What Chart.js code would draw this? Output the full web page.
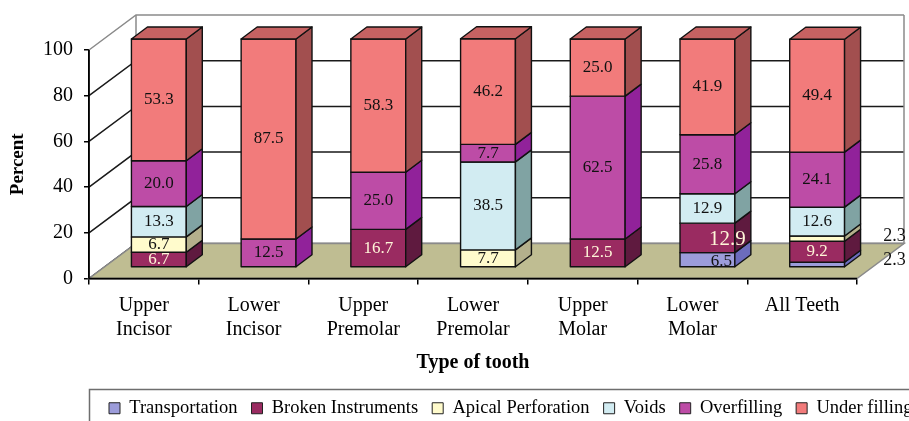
<!DOCTYPE html>
<html>
<head>
<meta charset="utf-8">
<script src="https://cdn.jsdelivr.net/npm/chart.js@4.4.1/dist/chart.umd.min.js"></script>
<style>
  html, body { margin: 0; padding: 0; background: #fff; }
</style>
</head>
<body>
<canvas id="teeth" width="909" height="421"></canvas>
<script>
const categories = [['Upper', 'Incisor'], ['Lower', 'Incisor'], ['Upper', 'Premolar'], ['Lower', 'Premolar'], ['Upper', 'Molar'], ['Lower', 'Molar'], 'All Teeth'];
const transportation = [0, 0, 0, 0, 0, 6.5, 2.3];
const brokenInstruments = [6.7, 0, 16.7, 0, 12.5, 12.9, 9.2];
const apicalPerforation = [6.7, 0, 0, 7.7, 0, 0, 2.3];
const voids = [13.3, 0, 0, 38.5, 0, 12.9, 12.6];
const overfilling = [20.0, 12.5, 25.0, 7.7, 62.5, 25.8, 24.1];
const underFilling = [53.3, 87.5, 58.3, 46.2, 25.0, 41.9, 49.4];
const yTicks = [0, 20, 40, 60, 80, 100];

const serif = "'Liberation Serif', 'Times New Roman', serif";
Chart.defaults.font.family = serif;
Chart.defaults.color = '#000';

// front, side, top colour and label colour for every series
const looks = [
  { front: '#9c9cda', side: '#6c6cbd', top: '#8080c8', text: '#111' },
  { front: '#9a2b61', side: '#5f1a3f', top: '#7a2050', text: '#fff6d8' },
  { front: '#fffbcc', side: '#b4b08c', top: '#d8d4a8', text: '#111' },
  { front: '#d2ecf2', side: '#80a3a3', top: '#a8c8cc', text: '#111' },
  { front: '#bd4ca6', side: '#91229a', top: '#a83a9e', text: '#111' },
  { front: '#f27b7b', side: '#a24f4f', top: '#c66262', text: '#111' }
];

// hand moved labels, as in the original figure: key = dataset,category
const labelTweaks = {
  '0,5': { dx: 14, dy: 2 },
  '1,5': { dx: 20, dy: 2, size: 21 },
  '0,6': { dx: 66, dy: -4, align: 'left', size: 18 },
  '2,6': { dx: 66, dy: -2, align: 'left', size: 18 }
};

const DX = 47, DY = -35;   // depth of the whole box
const BX = 15, BY = -11;   // where the bars stand inside it
const BDX = 16, BDY = -12; // depth of a bar

function poly(ctx, pts) {
  ctx.beginPath();
  ctx.moveTo(pts[0][0], pts[0][1]);
  for (let k = 1; k < pts.length; k++) ctx.lineTo(pts[k][0], pts[k][1]);
  ctx.closePath();
}

const box3d = {
  id: 'box3d',
  afterLayout(chart) {
    const lg = chart.legend;
    lg.left = 95;
    lg.right = 1100;
    lg.top = 385;
  },
  beforeDatasetsDraw(chart) {
    const { ctx, chartArea: a, scales: { x, y } } = chart;
    ctx.save();
    ctx.lineWidth = 1.5;
    // left wall and back wall gridlines
    yTicks.forEach(v => {
      const py = y.getPixelForValue(v);
      ctx.strokeStyle = v === 100 ? '#8a8a8a' : '#1a1a1a';
      ctx.beginPath();
      ctx.moveTo(a.left, py);
      ctx.lineTo(a.left + DX, py + DY);
      ctx.lineTo(a.right + DX, py + DY);
      ctx.stroke();
    });
    ctx.strokeStyle = '#8a8a8a';
    ctx.beginPath();
    ctx.moveTo(a.left + DX, a.top + DY); ctx.lineTo(a.left + DX, a.bottom + DY);
    ctx.moveTo(a.right + DX, a.top + DY); ctx.lineTo(a.right + DX, a.bottom + DY);
    ctx.stroke();
    // floor
    poly(ctx, [[a.left, a.bottom], [a.right, a.bottom], [a.right + DX, a.bottom + DY], [a.left + DX, a.bottom + DY]]);
    ctx.fillStyle = '#bfbd92';
    ctx.fill();
    ctx.strokeStyle = '#8a8a8a';
    ctx.stroke();
    ctx.strokeStyle = '#000';
    ctx.beginPath();
    ctx.moveTo(a.left, a.top); ctx.lineTo(a.left, a.bottom); ctx.lineTo(a.right, a.bottom);
    ctx.stroke();

    // bars
    const nSets = chart.data.datasets.length;
    const topSet = categories.map((c, j) => {
      let t = -1;
      for (let i = 0; i < nSets; i++) if (chart.data.datasets[i].data[j]) t = i;
      return t;
    });
    const labels = [];
    ctx.lineWidth = 1.4;
    ctx.strokeStyle = '#111';
    ctx.lineJoin = 'round';
    chart.data.datasets.forEach((ds, i) => {
      const meta = chart.getDatasetMeta(i);
      const look = looks[i];
      meta.data.forEach((bar, j) => {
        const v = ds.data[j];
        if (!v) return;
        const p = bar.getProps(['x', 'y', 'base', 'width'], true);
        const l = p.x - p.width / 2 + BX, r = p.x + p.width / 2 + BX;
        const t = Math.min(p.y, p.base) + BY, b = Math.max(p.y, p.base) + BY;
        poly(ctx, [[l, t], [r, t], [r, b], [l, b]]);
        ctx.fillStyle = look.front; ctx.fill(); ctx.stroke();
        poly(ctx, [[r, t], [r + BDX, t + BDY], [r + BDX, b + BDY], [r, b]]);
        ctx.fillStyle = look.side; ctx.fill(); ctx.stroke();
        if (topSet[j] === i) {
          poly(ctx, [[l, t], [l + BDX, t + BDY], [r + BDX, t + BDY], [r, t]]);
          ctx.fillStyle = look.top; ctx.fill(); ctx.stroke();
        }
        const tw = labelTweaks[i + ',' + j] || {};
        labels.push({
          text: v.toFixed(1),
          x: (l + r) / 2 + (tw.dx || 0),
          y: (t + b) / 2 + (tw.dy || 0),
          align: tw.align || 'center',
          size: tw.size || 17,
          color: tw.align ? '#111' : look.text
        });
      });
    });
    ctx.textBaseline = 'middle';
    labels.forEach(lb => {
      ctx.font = lb.size + 'px ' + serif;
      ctx.textAlign = lb.align;
      ctx.fillStyle = lb.color;
      ctx.fillText(lb.text, lb.x, lb.y);
    });
    ctx.restore();
    return false;
  },
  afterDraw(chart) {
    const ctx = chart.ctx;
    ctx.save();
    ctx.strokeStyle = '#6e6e6e';
    ctx.lineWidth = 1.5;
    ctx.strokeRect(89.5, 389.5, 900, 60);
    ctx.restore();
  }
};

const names = ['Transportation', 'Broken Instruments', 'Apical Perforation', 'Voids', 'Overfilling', 'Under filling'];
const values = [transportation, brokenInstruments, apicalPerforation, voids, overfilling, underFilling];

new Chart(document.getElementById('teeth'), {
  type: 'bar',
  data: {
    labels: categories,
    datasets: names.map((n, i) => ({
      label: n,
      data: values[i],
      backgroundColor: looks[i].front,
      borderColor: '#222',
      borderWidth: 1,
      barPercentage: 0.5,
      categoryPercentage: 1
    }))
  },
  options: {
    responsive: false,
    animation: false,
    devicePixelRatio: 1,
    layout: { padding: { top: 50, right: 52, left: 0, bottom: 0 } },
    plugins: {
      tooltip: { enabled: false },
      legend: {
        position: 'bottom',
        align: 'start',
        labels: { boxWidth: 11, boxHeight: 11, padding: 14, color: '#000', font: { family: serif, size: 18.5 } }
      }
    },
    scales: {
      x: {
        stacked: true,
        grid: { drawOnChartArea: false, color: '#000', lineWidth: 1.5, tickLength: 6, offset: true },
        border: { color: '#000', width: 1.5 },
        ticks: { color: '#000', font: { family: serif, size: 20, lineHeight: 1.2 }, padding: 9, maxRotation: 0, autoSkip: false },
        title: { display: true, text: 'Type of tooth', color: '#000', font: { family: serif, size: 20, weight: 'bold' }, padding: { top: 4, bottom: 4 } },
        afterFit: s => { s.height = 100; }
      },
      y: {
        stacked: true,
        min: 0,
        max: 100,
        afterBuildTicks: s => { s.ticks = yTicks.map(v => ({ value: v })); },
        grid: { drawOnChartArea: false, color: '#000', lineWidth: 1.5, tickLength: 5 },
        border: { color: '#000', width: 1.5 },
        ticks: { color: '#000', font: { family: serif, size: 20 }, padding: 11 },
        title: { display: true, text: 'Percent', color: '#000', font: { family: serif, size: 19, weight: 'bold' }, padding: { top: 7, bottom: 0 } },
        afterFit: s => { s.width = 89; }
      }
    }
  },
  plugins: [box3d]
});
</script>
</body>
</html>
